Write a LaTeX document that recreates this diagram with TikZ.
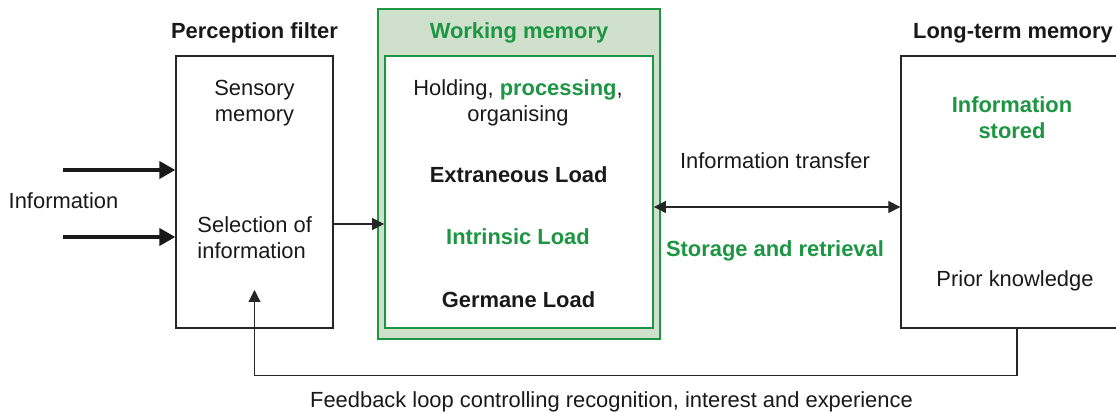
\documentclass[tikz,border=0pt]{standalone}
\usepackage{fontspec}
\setmainfont{Liberation Sans}
\usetikzlibrary{positioning,arrows.meta}
\definecolor{wmgreen}{RGB}{28,150,66}
\definecolor{wmfill}{RGB}{207,225,205}

\begin{document}
\begin{tikzpicture}[x=1pt, y=1pt, font=\fontsize{21.9}{26}\selectfont, text=black!90,
  box/.style={draw=black!85, line width=1.3pt, rectangle, minimum height=272pt},
  txt/.style={inner sep=0pt, align=center},
  head/.style={inner sep=0pt, font=\fontsize{21.9}{26}\selectfont\bfseries},
  thin/.style={-{Triangle[length=12pt, width=12pt]}, line width=1.1pt, draw=black!85},
  thick/.style={-{Triangle[length=16pt, width=17pt]}, line width=3.8pt, draw=black!90}]
  \useasboundingbox (0,0) rectangle (1116,412);

  \node (wmouter) [rectangle, draw=wmgreen, fill=wmfill, line width=1.8pt, minimum width=282pt, minimum height=330pt] at (519,238) {};
  \node (wminner) [box, draw=wmgreen, fill=white, line width=1.8pt, minimum width=268pt] at (519,220) {};
  \node (perc) [box, minimum width=157pt] at (254.5,220) {};
  \node (ltm) [box, minimum width=229pt] at (1015.5,220) {};

  \node (percl) [head, above=12.3pt of perc] {Perception filter};
  \node (wml) [head, text=wmgreen, below=14.4pt of wmouter.north] {Working memory};
  \node (ltml) [head, above=12.3pt of ltm, xshift=-2.5pt] {Long-term memory};

  \node (sens) [txt] at (254.5,308.6) {Sensory\\memory};
  \node (sel) [txt, align=left] at (254.7,174.8) {Selection of\\information};
  \node (hold) [txt] at (518,309.6) {Holding, \textcolor{wmgreen}{\bfseries processing},\\organising};
  \node (extr) [txt, font=\fontsize{21.9}{26}\selectfont\bfseries] at (518.7,237.5) {Extraneous Load};
  \node (intr) [txt, text=wmgreen, font=\fontsize{21.9}{26}\selectfont\bfseries] at (518,175) {Intrinsic Load};
  \node (germ) [txt, font=\fontsize{21.9}{26}\selectfont\bfseries] at (518.5,112) {Germane Load};
  \node (infost) [txt, text=wmgreen, font=\fontsize{21.9}{26}\selectfont\bfseries] at (1012,294) {Information\\stored};
  \node (prior) [txt] at (1015,131) {Prior knowledge};
  \node (inftr) [txt] at (775,251) {Information transfer};
  \node (stor) [txt, text=wmgreen, font=\fontsize{21.9}{26}\selectfont\bfseries] at (775,161) {Storage and retrieval};
  \node (info) [txt] at (63.5,211) {Information};
  \node (fb) [txt] at (611.5,10.6) {Feedback loop controlling recognition, interest and experience};

  \coordinate (in1) at (63,242);
  \coordinate (in2) at (63,175);
  \coordinate (fbend) at (254.5,122);

  \draw[thick] (in1) -- (in1 -| perc.west);
  \draw[thick] (in2) -- (in2 -| perc.west);
  \draw[thin] ([yshift=-32pt]perc.east) -- ([yshift=-32pt]wminner.west);
  \draw[thin, {Triangle[length=12pt, width=12pt]}-{Triangle[length=12pt, width=12pt]}] ([yshift=-15pt]wminner.east) -- ([yshift=-15pt]ltm.west);
  \draw[thin] ([xshift=1.5pt]ltm.south) |- ++(0,-47) -| (fbend);
\end{tikzpicture}
\end{document}
